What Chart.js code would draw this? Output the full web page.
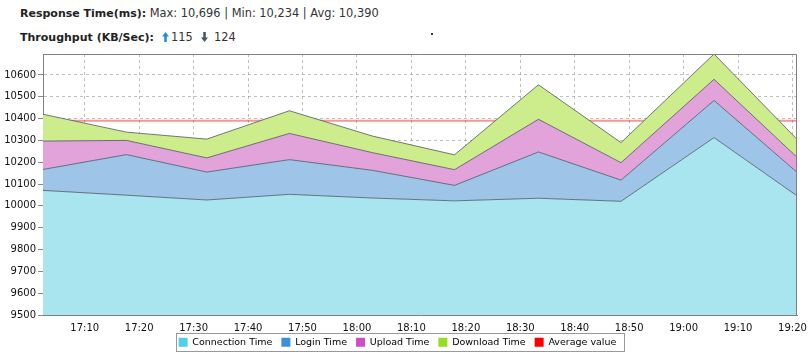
<!DOCTYPE html>
<html>
<head>
<meta charset="utf-8">
<title>Response Time</title>
<script src="https://cdn.jsdelivr.net/npm/chart.js@4.4.1/dist/chart.umd.min.js"></script>
<style>
  body { margin: 0; background: #fff; font-family: 'DejaVu Sans', sans-serif; }
  #wrap { position: relative; width: 810px; height: 356px; overflow: hidden; }
  .stat { position: absolute; font-size: 11px; color: #333; white-space: nowrap; line-height: 13px; }
  .stat b { color: #222; }
  .stat span { font-size: 11.4px; }
  .arrow { position: absolute; }
  #dot { position: absolute; left: 431px; top: 33px; width: 2px; height: 2px; background: #333; }
  #chart { position: absolute; left: 0; top: 0; }
</style>
</head>
<body>
<div id="wrap">
  <div class="stat" style="left:20px; top:7px;"><b>Response Time(ms):</b> <span>Max: 10,696 | Min: 10,234 | Avg: 10,390</span></div>
  <div class="stat" style="left:20px; top:31px;"><b>Throughput (KB/Sec):</b></div>
  <svg class="arrow" style="left:162px; top:32px;" width="7" height="10" viewBox="0 0 7 10">
    <polygon points="3.5,0 7,4.5 4.8,4.5 4.8,10 2.2,10 2.2,4.5 0,4.5" fill="#1e90e0"/>
  </svg>
  <div class="stat" style="left:171px; top:31px;"><span>115</span></div>
  <svg class="arrow" style="left:201px; top:32px;" width="7" height="10" viewBox="0 0 7 10">
    <polygon points="3.5,10 7,5.5 4.8,5.5 4.8,0 2.2,0 2.2,5.5 0,5.5" fill="#4c5566"/>
  </svg>
  <div class="stat" style="left:214px; top:31px;"><span>124</span></div>
  <div id="dot"></div>
  <canvas id="chart" width="810" height="356"></canvas>
</div>
<script>
// sample times (hh:mm:ss)
const times = ['17:02:20', '17:17:40', '17:32:25', '17:47:35', '18:02:50', '18:17:55', '18:33:20', '18:48:30', '19:05:35', '19:20:50'];

// stacked components (ms)
const connectionTime = [10071, 10049, 10027, 10053, 10036, 10023, 10035, 10021, 10313, 10046];
const loginTime = [96, 186, 128, 159, 127, 71, 212, 97, 170, 108];
const uploadTime = [130, 65, 65, 120, 81, 72, 150, 80, 97, 69];
const downloadTime = [123, 38, 86, 104, 76, 68, 158, 92, 116, 82];
const averageValue = 10390;

const xTickLabels = ['17:10', '17:20', '17:30', '17:40', '17:50', '18:00', '18:10', '18:20', '18:30', '18:40', '18:50', '19:00', '19:10', '19:20'];
const yTickValues = [9500, 9600, 9700, 9800, 9900, 10000, 10100, 10200, 10300, 10400, 10500, 10600];

const legendColors = ['#52cfe6', '#3d8fd8', '#cc4fc8', '#99dd22', '#ff0000'];
const lineColor = 'rgba(70, 80, 90, 0.75)';
const gridColor = 'rgba(130, 130, 130, 0.5)';
const tickFont = { family: 'DejaVu Sans', size: 10 };

function toMinutes(t) {
    const p = t.split(':').map(Number);
    return p[0] * 60 + p[1] + (p[2] || 0) / 60;
}

function formatTime(v) {
    const m = Math.round(v);
    return Math.floor(m / 60) + ':' + String(m % 60).padStart(2, '0');
}

const xs = times.map(toMinutes);
const points = arr => arr.map((v, i) => ({ x: xs[i], y: v }));

function area(label, values, fill, color) {
    return {
        label: label,
        data: points(values),
        fill: fill,
        backgroundColor: color,
        borderColor: lineColor,
        borderWidth: 1,
        pointRadius: 0,
        tension: 0
    };
}

// border around plot top/right and around the legend
const framePlugin = {
    id: 'frame',
    afterDraw(chart) {
        const { ctx, chartArea: a, legend } = chart;
        ctx.save();
        ctx.strokeStyle = '#7f7f7f';
        ctx.lineWidth = 1;
        ctx.beginPath();
        ctx.moveTo(Math.round(a.left), Math.round(a.top) + 0.5);
        ctx.lineTo(Math.round(a.right) - 0.5, Math.round(a.top) + 0.5);
        ctx.lineTo(Math.round(a.right) - 0.5, Math.round(a.bottom));
        ctx.stroke();

        const hb = legend.legendHitBoxes;
        if (hb && hb.length) {
            const left = Math.min(...hb.map(h => h.left)) - 3;
            const right = Math.max(...hb.map(h => h.left + h.width)) + 4;
            const mid = hb[0].top + hb[0].height / 2;
            ctx.strokeStyle = '#999';
            ctx.strokeRect(Math.round(left) + 0.5, Math.round(mid - 9) + 0.5, Math.round(right - left), 18);
        }
        ctx.restore();
    }
};

const ctx = document.getElementById('chart').getContext('2d');
new Chart(ctx, {
    type: 'line',
    data: {
        datasets: [
            area('Connection Time', connectionTime, 'start', 'rgba(168, 229, 239, 1)'),
            area('Login Time', loginTime, '-1', 'rgba(158, 196, 232, 1)'),
            area('Upload Time', uploadTime, '-1', 'rgba(226, 163, 218, 1)'),
            area('Download Time', downloadTime, '-1', 'rgba(205, 236, 139, 1)'),
            {
                label: 'Average value',
                data: [{ x: xs[0], y: averageValue }, { x: xs[xs.length - 1], y: averageValue }],
                stack: 'avg',
                fill: false,
                borderColor: 'rgba(255, 40, 40, 0.5)',
                borderWidth: 2,
                pointRadius: 0
            }
        ]
    },
    options: {
        responsive: false,
        animation: false,
        devicePixelRatio: 1,
        layout: { padding: { top: 54, right: 12, left: 0, bottom: -1 } },
        plugins: {
            tooltip: { enabled: false },
            legend: {
                position: 'bottom',
                labels: {
                    boxWidth: 9,
                    boxHeight: 9,
                    padding: 6,
                    color: '#111',
                    font: { family: 'DejaVu Sans', size: 9.5 },
                    generateLabels: chart => chart.data.datasets.map((d, i) => ({
                        text: d.label + ' ',
                        fillStyle: legendColors[i],
                        strokeStyle: legendColors[i],
                        lineWidth: 0,
                        hidden: false,
                        datasetIndex: i
                    }))
                }
            }
        },
        scales: {
            x: {
                type: 'linear',
                min: xs[0],
                max: xs[xs.length - 1],
                afterBuildTicks: s => { s.ticks = xTickLabels.map(l => ({ value: toMinutes(l) })); },
                afterFit: s => { s.height = 16.5; },
                ticks: { callback: v => formatTime(v), maxRotation: 0, autoSkip: false, font: tickFont, color: '#111', padding: 3 },
                grid: { color: gridColor, tickColor: 'transparent', tickLength: 4 },
                border: { display: true, color: '#7f7f7f', dash: [3, 3] }
            },
            y: {
                stacked: true,
                min: 9500,
                bounds: 'data',
                grace: 0,
                afterBuildTicks: s => { s.ticks = yTickValues.map(v => ({ value: v })); },
                afterFit: s => { s.width = 43; },
                ticks: { callback: v => String(v), font: tickFont, color: '#111', padding: 2 },
                grid: { color: gridColor, tickColor: '#888', tickLength: 5 },
                border: { display: true, color: '#7f7f7f', dash: [3, 3] }
            }
        }
    },
    plugins: [framePlugin]
});
</script>
</body>
</html>
